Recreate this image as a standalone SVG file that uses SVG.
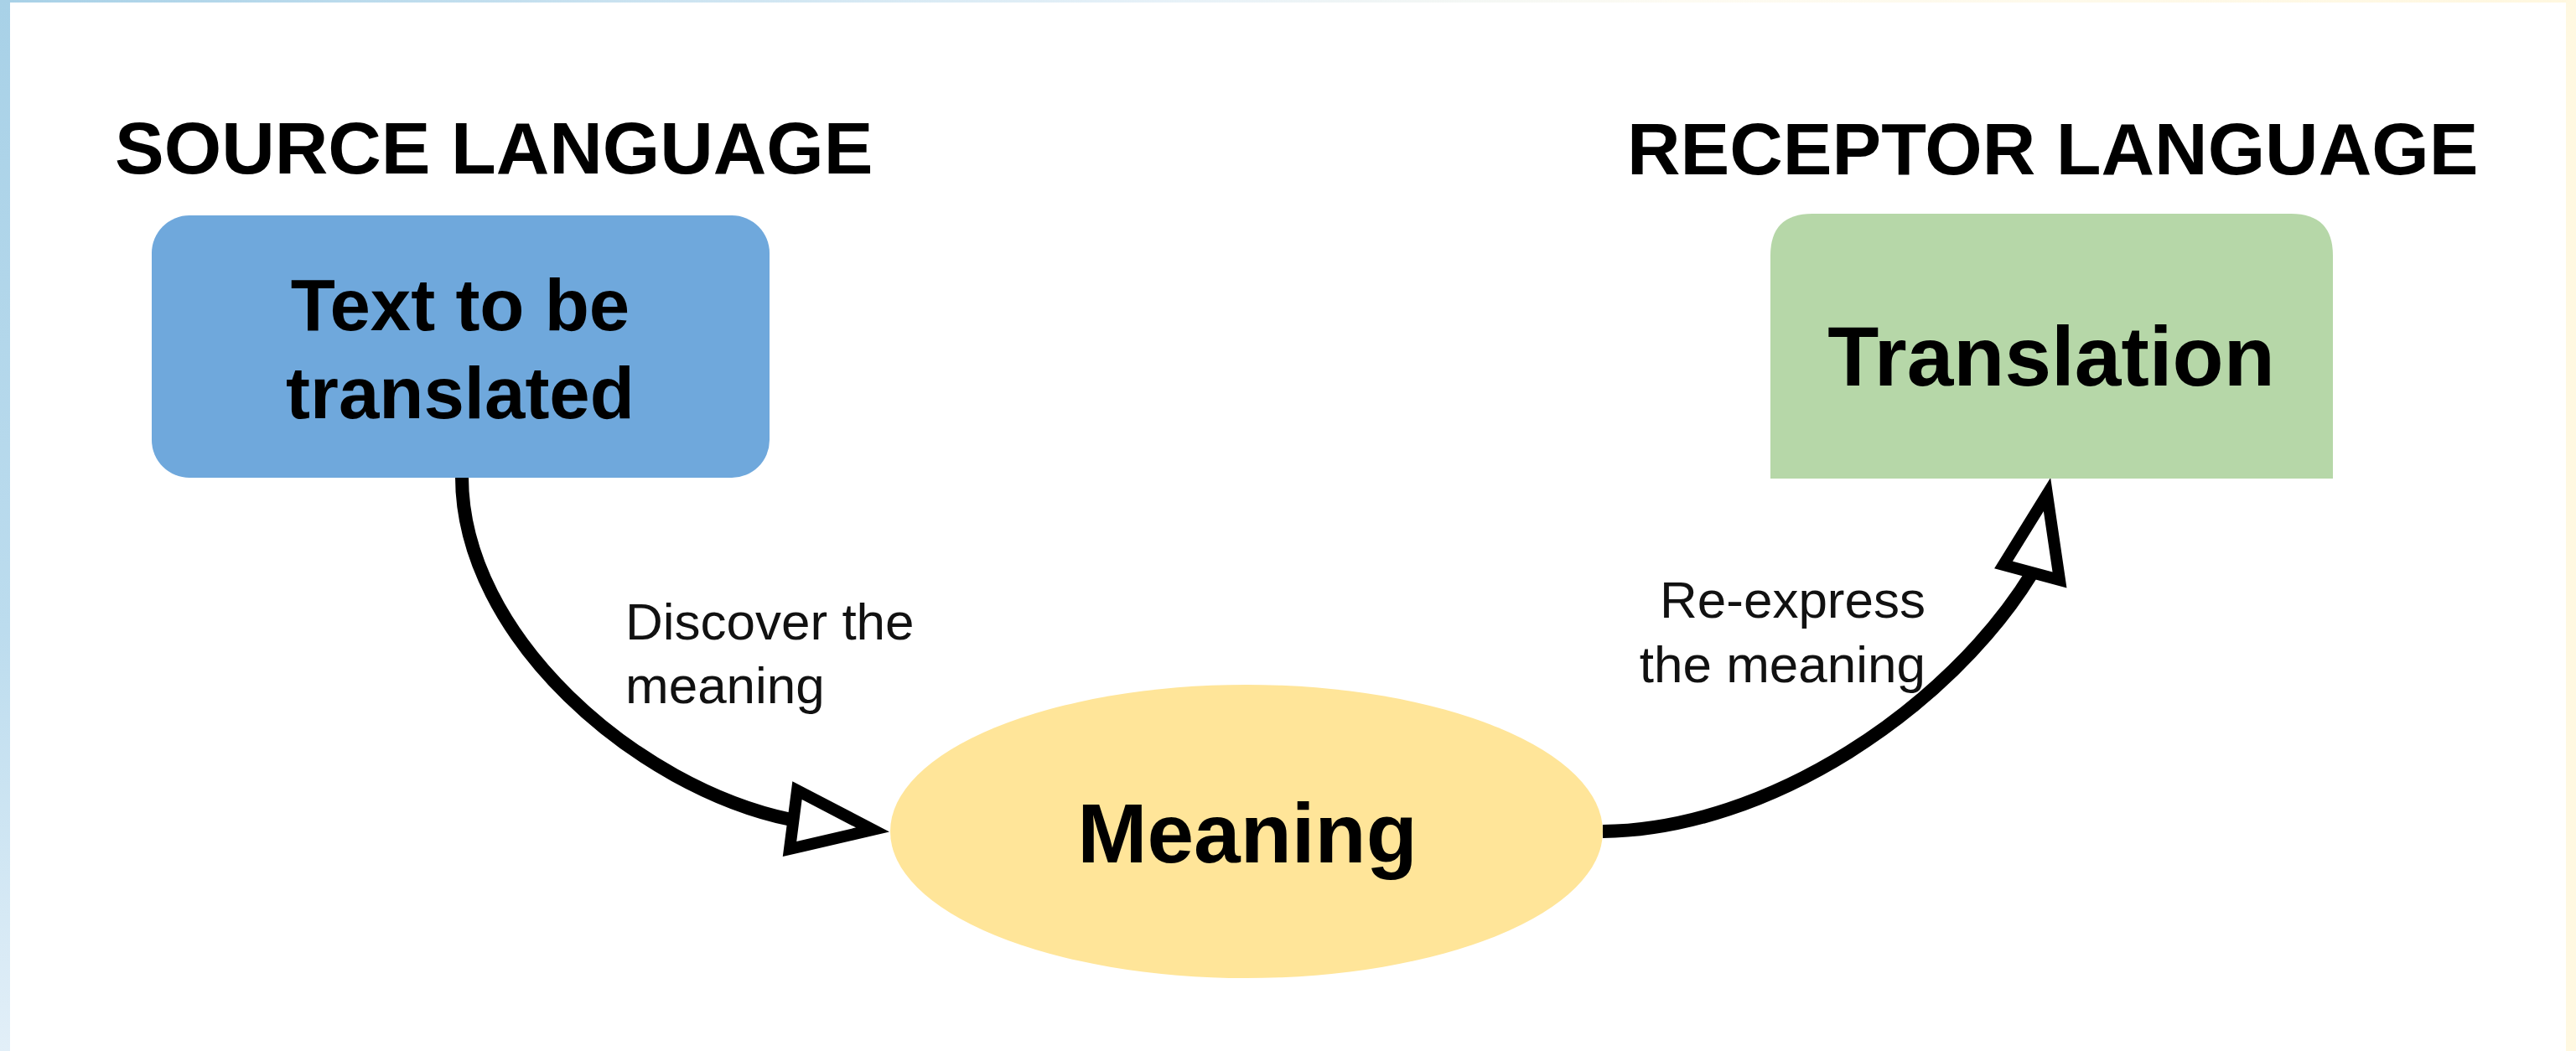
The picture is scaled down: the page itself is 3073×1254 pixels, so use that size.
<svg xmlns="http://www.w3.org/2000/svg" width="3073" height="1254" viewBox="0 0 3073 1254">
  <defs>
    <linearGradient id="gLeft" x1="0" y1="0" x2="0" y2="1">
      <stop offset="0" stop-color="#a8d1e7"/>
      <stop offset="0.6" stop-color="#bcdcee"/>
      <stop offset="1" stop-color="#e2eff8"/>
    </linearGradient>
    <linearGradient id="gTop" x1="0" y1="0" x2="1" y2="0">
      <stop offset="0" stop-color="#a8d1e7"/>
      <stop offset="0.45" stop-color="#e6f1f8"/>
      <stop offset="0.65" stop-color="#fdfbf2"/>
      <stop offset="1" stop-color="#fff7df"/>
    </linearGradient>
    <style>
      .title { font-family: "Liberation Sans", Arial, sans-serif; font-weight: bold; font-size: 88px; fill: #000; }
      .nodeText { font-family: "Liberation Sans", Arial, sans-serif; font-weight: bold; fill: #000; text-anchor: middle; }
      .label { font-family: "Liberation Sans", Arial, sans-serif; font-size: 62px; fill: #111; }
      .edge { fill: none; stroke: #000; stroke-width: 16; }
      .head { fill: #fff; stroke: #000; stroke-width: 14; stroke-linejoin: miter; stroke-miterlimit: 10; }
    </style>
  </defs>

  <rect x="0" y="0" width="3073" height="1254" fill="#ffffff"/>
  <rect x="0" y="0" width="3073" height="3" fill="url(#gTop)"/>
  <rect x="0" y="0" width="12" height="1254" fill="url(#gLeft)"/>
  <rect x="3061" y="0" width="12" height="1254" fill="#fff8e1"/>

  <text class="title" x="137" y="207">SOURCE LANGUAGE</text>
  <text class="title" x="1941" y="208">RECEPTOR LANGUAGE</text>

  <g id="connectors">
    <g id="edge-discover">
      <path class="edge" d="M551,569 C551,760 760,940 944,978"/>
      <polygon class="head" points="1041,990 951,943 942,1013"/>
      <text class="label" x="746" y="763">Discover the</text>
      <text class="label" x="746" y="839">meaning</text>
    </g>
    <g id="edge-reexpress">
      <path class="edge" d="M1912,992 C2110,990 2325,845 2424,684"/>
      <polygon class="head" points="2442,590 2390,674 2457,692"/>
      <text class="label" x="2297" y="737" text-anchor="end">Re-express</text>
      <text class="label" x="2297" y="814" text-anchor="end">the meaning</text>
    </g>
  </g>

  <g id="node-source">
    <rect x="181" y="257" width="737" height="313" rx="45" ry="45" fill="#6fa8dc"/>
    <text class="nodeText" x="549" y="394" font-size="87">Text to be</text>
    <text class="nodeText" x="549" y="499" font-size="87">translated</text>
  </g>

  <g id="node-translation">
    <path d="M2112,571 L2112,305 Q2112,255 2162,255 L2733,255 Q2783,255 2783,305 L2783,571 Z" fill="#b6d7a8"/>
    <text class="nodeText" x="2447" y="460" font-size="100">Translation</text>
  </g>

  <g id="node-meaning">
    <ellipse cx="1487" cy="992" rx="425" ry="175" fill="#ffe599"/>
    <text class="nodeText" x="1488" y="1029" font-size="100">Meaning</text>
  </g>
</svg>
